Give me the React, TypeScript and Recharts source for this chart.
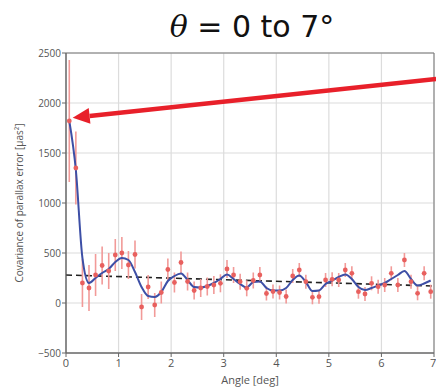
import React from 'react';
import {
  ComposedChart,
  Line,
  Scatter,
  ErrorBar,
  XAxis,
  YAxis,
  CartesianGrid,
  ReferenceLine,
  ReferenceArea
} from 'recharts';

// Bin centres along the angle axis [deg]
const angles = [
  0.0625, 0.1875, 0.3125, 0.4375, 0.5625, 0.6875, 0.8125, 0.9375,
  1.0625, 1.1875, 1.3125, 1.4375, 1.5625, 1.6875, 1.8125, 1.9375,
  2.0625, 2.1875, 2.3125, 2.4375, 2.5625, 2.6875, 2.8125, 2.9375,
  3.0625, 3.1875, 3.3125, 3.4375, 3.5625, 3.6875, 3.8125, 3.9375,
  4.0625, 4.1875, 4.3125, 4.4375, 4.5625, 4.6875, 4.8125, 4.9375,
  5.0625, 5.1875, 5.3125, 5.4375, 5.5625, 5.6875, 5.8125, 5.9375,
  6.0625, 6.1875, 6.3125, 6.4375, 6.5625, 6.6875, 6.8125, 6.9375
];

// Measured covariance per bin [µas²]
const covariance = [
  1820, 1350, 200, 150, 280, 375, 320, 480,
  500, 380, 485, -40, 160, -20, 105, 335,
  205, 405, 215, 125, 150, 165, 180, 197,
  340, 280, 213, 147, 225, 280, 95, 115,
  105, 65, 270, 330, 213, 57, 63, 230,
  237, 230, 330, 297, 113, 90, 197, 163,
  180, 297, 180, 430, 213, 97, 297, 113
];

// 1-sigma errors per bin
const errors = [
  610, 365, 240, 230, 210, 190, 180, 160,
  160, 140, 140, 130, 120, 120, 110, 110,
  100, 110, 90, 90, 90, 90, 90, 90,
  90, 80, 80, 80, 80, 80, 70, 70,
  70, 70, 70, 70, 70, 70, 70, 70,
  70, 70, 70, 70, 70, 70, 70, 70,
  70, 70, 70, 70, 70, 70, 70, 70
];

// Smooth model fit evaluated at the bin centres
const fit = [
  1820, 1330, 450, 200, 250, 300, 340, 410,
  450, 430, 310, 160, 70, 60, 110, 220,
  270, 295, 230, 160, 155, 170, 200, 240,
  285, 240, 190, 155, 210, 215, 150, 125,
  125, 150, 230, 275, 210, 120, 125, 190,
  225, 260, 285, 240, 160, 130, 150, 175,
  200, 240, 280, 320, 240, 175, 195, 225
];

// Linear trend endpoints
const trend = [
  { x: 0, y: 280 },
  { x: 7, y: 170 }
];

// Annotation arrow: tail at the right edge, head pointing at the first bin
const arrow = [
  { x: 7.04, y: 2240 },
  { x: 0.127, y: 1853 }
];

const xTicks = [0, 1, 2, 3, 4, 5, 6, 7];
const yTicks = [-500, 0, 500, 1000, 1500, 2000, 2500];

const data = angles.map((a, i) => ({
  angle: a,
  cov: covariance[i],
  err: errors[i],
  fit: fit[i]
}));

const tickStyle = { fontSize: 10, fill: '#555', fontFamily: 'Open Sans, sans-serif' };

const ArrowShape = (props: any) => {
  const { x1, y1, x2, y2 } = props;
  if ([x1, y1, x2, y2].some((v) => typeof v !== 'number' || isNaN(v))) return null;
  const dx = x2 - x1;
  const dy = y2 - y1;
  const len = Math.sqrt(dx * dx + dy * dy);
  const ux = dx / len;
  const uy = dy / len;
  const headLen = 17;
  const headHalf = 8;
  const bx = x2 - ux * headLen;
  const by = y2 - uy * headLen;
  const px = -uy;
  const py = ux;
  return (
    <g>
      <line x1={x1} y1={y1} x2={bx} y2={by} stroke="#e8202a" strokeWidth={4.5} />
      <polygon
        points={`${x2},${y2} ${bx + px * headHalf},${by + py * headHalf} ${bx - px * headHalf},${by - py * headHalf}`}
        fill="#e8202a"
      />
    </g>
  );
};

const YLabel = (props: any) => {
  const vb = props.viewBox || {};
  const cx = 20;
  const cy = (vb.y ?? 53) + (vb.height ?? 300) / 2;
  return (
    <text
      x={cx}
      y={cy}
      transform={`rotate(-90, ${cx}, ${cy})`}
      textAnchor="middle"
      dominantBaseline="middle"
      fontSize={10}
      fill="#555"
      fontFamily="Open Sans, sans-serif"
    >
      Covariance of parallax error [μas²]
    </text>
  );
};

export default function App() {
  return (
    <div style={{ position: 'absolute', left: 0, top: 0, width: 436, height: 387, background: '#fff' }}>
      <ComposedChart
        width={436}
        height={387}
        data={data}
        margin={{ top: 53, right: 2, left: 0, bottom: 0 }}
      >
        <CartesianGrid stroke="#dcdcdc" strokeWidth={1.2} />
        <XAxis
          dataKey="angle"
          type="number"
          domain={[0, 7]}
          ticks={xTicks}
          height={34}
          tick={{ ...tickStyle, fontSize: 11 }}
          tickSize={4}
          tickMargin={2}
          stroke="#666"
          allowDataOverflow
          label={{
            value: 'Angle [deg]',
            position: 'insideBottom',
            offset: 3,
            fontSize: 11,
            fill: '#555',
            fontFamily: 'Open Sans, sans-serif'
          }}
        />
        <YAxis
          type="number"
          domain={[-500, 2500]}
          ticks={yTicks}
          width={66}
          tick={tickStyle}
          tickSize={4}
          tickMargin={1}
          stroke="#666"
          allowDataOverflow
          tickFormatter={(v: number) => (v < 0 ? `\u2212${Math.abs(v)}` : `${v}`)}
          label={{ content: YLabel }}
        />
        <ReferenceArea x1={0} x2={7} y1={-500} y2={2500} fill="none" stroke="#777" strokeWidth={1} />
        <ReferenceLine
          segment={trend}
          stroke="#222"
          strokeWidth={1.6}
          strokeDasharray="6 4"
        />
        <Scatter
          dataKey="cov"
          fill="#e8605e"
          isAnimationActive={false}
          shape={(p: any) => <circle cx={p.cx} cy={p.cy} r={2.4} fill="#e8605e" />}
        >
          <ErrorBar dataKey="err" direction="y" width={0} stroke="#f29a98" strokeWidth={1.6} />
        </Scatter>
        <Line
          dataKey="fit"
          type="monotone"
          stroke="#3d4fa6"
          strokeWidth={2}
          dot={false}
          isAnimationActive={false}
        />
        <ReferenceLine segment={arrow} ifOverflow="visible" shape={ArrowShape} />
      </ComposedChart>
      <svg
        width={436}
        height={50}
        style={{ position: 'absolute', left: 0, top: 0, pointerEvents: 'none' }}
      >
        <text x={252} y={37} textAnchor="middle" fontSize={30} fill="#111" fontFamily="DejaVu Sans, sans-serif">
          <tspan fontFamily="DejaVu Serif, serif" fontStyle="italic">θ</tspan>
          <tspan> = 0 to 7°</tspan>
        </text>
      </svg>
    </div>
  );
}
